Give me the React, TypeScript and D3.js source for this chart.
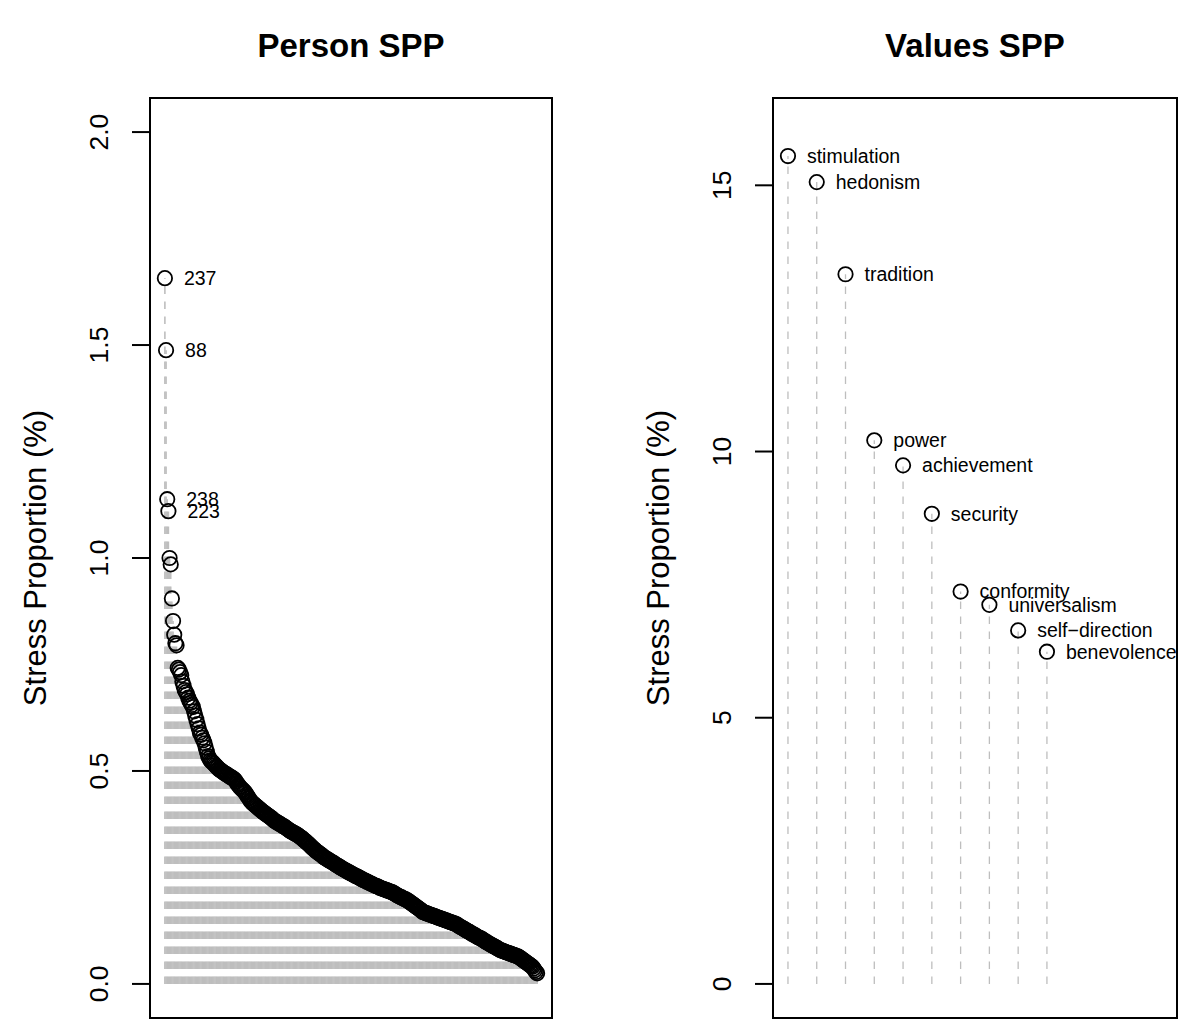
import React from "react";
import * as d3 from "d3";

// ---- Data ----
const personIds: string[] = ["237", "88", "238", "223"];
const personValues: number[] = [
  1.657, 1.488, 1.138, 1.110, 1.000, 0.985, 0.905, 0.852, 0.820, 0.800,
  0.795, 0.742, 0.738, 0.732, 0.725, 0.710, 0.700, 0.690, 0.685, 0.680,
  0.672, 0.665, 0.660, 0.655, 0.650, 0.640, 0.630, 0.620, 0.610, 0.600,
  0.590, 0.585, 0.578, 0.572, 0.565, 0.555, 0.545, 0.535, 0.530, 0.525,
  0.522, 0.520, 0.517, 0.514, 0.511, 0.508, 0.505, 0.503, 0.501, 0.499,
  0.497, 0.495, 0.493, 0.492, 0.490, 0.488, 0.486, 0.485, 0.483, 0.481,
  0.479, 0.475, 0.470, 0.467, 0.463, 0.460, 0.457, 0.455, 0.452, 0.449,
  0.444, 0.440, 0.436, 0.431, 0.428, 0.425, 0.423, 0.420, 0.418, 0.416,
  0.413, 0.411, 0.409, 0.406, 0.404, 0.402, 0.400, 0.398, 0.396, 0.394,
  0.392, 0.390, 0.388, 0.385, 0.383, 0.381, 0.380, 0.378, 0.376, 0.375,
  0.373, 0.371, 0.370, 0.368, 0.366, 0.364, 0.362, 0.360, 0.358, 0.357,
  0.355, 0.354, 0.352, 0.351, 0.349, 0.347, 0.345, 0.343, 0.341, 0.338,
  0.336, 0.334, 0.331, 0.329, 0.326, 0.323, 0.321, 0.318, 0.316, 0.313,
  0.311, 0.309, 0.307, 0.305, 0.303, 0.301, 0.298, 0.296, 0.295, 0.293,
  0.291, 0.290, 0.288, 0.286, 0.285, 0.283, 0.281, 0.279, 0.278, 0.276,
  0.274, 0.273, 0.271, 0.269, 0.268, 0.266, 0.265, 0.263, 0.262, 0.260,
  0.259, 0.257, 0.256, 0.254, 0.253, 0.252, 0.250, 0.249, 0.247, 0.246,
  0.244, 0.243, 0.242, 0.240, 0.239, 0.238, 0.236, 0.235, 0.234, 0.232,
  0.231, 0.230, 0.229, 0.228, 0.226, 0.225, 0.224, 0.223, 0.222, 0.221,
  0.220, 0.219, 0.218, 0.217, 0.216, 0.215, 0.213, 0.212, 0.210, 0.208,
  0.207, 0.205, 0.204, 0.203, 0.201, 0.200, 0.199, 0.197, 0.196, 0.194,
  0.192, 0.190, 0.188, 0.186, 0.184, 0.182, 0.180, 0.178, 0.176, 0.174,
  0.172, 0.169, 0.168, 0.167, 0.166, 0.165, 0.164, 0.163, 0.162, 0.161,
  0.160, 0.159, 0.158, 0.157, 0.156, 0.155, 0.154, 0.153, 0.152, 0.151,
  0.150, 0.149, 0.148, 0.147, 0.146, 0.145, 0.144, 0.143, 0.142, 0.141,
  0.140, 0.138, 0.136, 0.134, 0.133, 0.131, 0.130, 0.128, 0.126, 0.125,
  0.123, 0.122, 0.120, 0.118, 0.117, 0.115, 0.114, 0.112, 0.110, 0.109,
  0.108, 0.106, 0.105, 0.103, 0.101, 0.099, 0.098, 0.096, 0.094, 0.093,
  0.091, 0.090, 0.088, 0.087, 0.085, 0.084, 0.082, 0.080, 0.079, 0.078,
  0.077, 0.076, 0.075, 0.074, 0.073, 0.072, 0.071, 0.070, 0.069, 0.068,
  0.067, 0.066, 0.065, 0.064, 0.062, 0.060, 0.058, 0.056, 0.054, 0.052,
  0.050, 0.048, 0.046, 0.044, 0.042, 0.040, 0.036, 0.032, 0.028, 0.025,
];
const personTicks: number[] = [0, 0.5, 1.0, 1.5, 2.0];
const personTickLabels: string[] = ["0.0", "0.5", "1.0", "1.5", "2.0"];

const valueCategories: string[] = [
  "stimulation", "hedonism", "tradition", "power", "achievement",
  "security", "conformity", "universalism", "self\u2212direction", "benevolence",
];
const valueValues: number[] = [15.55, 15.06, 13.33, 10.21, 9.74, 8.83, 7.37, 7.12, 6.64, 6.24];
const valueTicks: number[] = [0, 5, 10, 15];
const valueTickLabels: string[] = ["0", "5", "10", "15"];

const FONT = "'Liberation Sans', Arial, Helvetica, sans-serif";
const GRAY = "#BEBEBE";

function ext(a: number, b: number): [number, number] {
  const d = (b - a) * 0.04;
  return [a - d, b + d];
}

type PanelProps = {
  title: string;
  left: number;
  right: number;
  top: number;
  bottom: number;
  values: number[];
  labels: string[];
  xMax: number;
  yMax: number;
  ticks: number[];
  tickLabels: string[];
  lineWidth: number;
};

function Panel(p: PanelProps) {
  const x = d3.scaleLinear().domain(ext(1, p.xMax)).range([p.left, p.right]);
  const y = d3.scaleLinear().domain(ext(0, p.yMax)).range([p.bottom, p.top]);
  const cx = (p.left + p.right) / 2;
  const cy = (p.top + p.bottom) / 2;
  return (
    <g>
      <text x={cx} y={57} textAnchor="middle" fontFamily={FONT} fontWeight="bold" fontSize={33}>
        {p.title}
      </text>
      {p.values.map((v, i) => (
        <line
          key={"l" + i}
          x1={x(i + 1)}
          x2={x(i + 1)}
          y1={y(0)}
          y2={y(v)}
          stroke={GRAY}
          strokeWidth={p.lineWidth}
          strokeDasharray="7.5,7.5"
        />
      ))}
      {p.values.map((v, i) => (
        <circle key={"c" + i} cx={x(i + 1)} cy={y(v)} r={7.2} fill="none" stroke="#000" strokeWidth={1.8} />
      ))}
      {p.labels.map((lab, i) => (
        <text
          key={"t" + i}
          x={x(i + 1) + 19}
          y={y(p.values[i])}
          dy="0.35em"
          fontFamily={FONT}
          fontSize={19.5}
        >
          {lab}
        </text>
      ))}
      <rect x={p.left} y={p.top} width={p.right - p.left} height={p.bottom - p.top} fill="none" stroke="#000" strokeWidth={2} />
      {p.ticks.map((t, i) => (
        <g key={"k" + i}>
          <line x1={p.left - 18} x2={p.left} y1={y(t)} y2={y(t)} stroke="#000" strokeWidth={2} />
          <text
            transform={`translate(${p.left - 42},${y(t)}) rotate(-90)`}
            textAnchor="middle"
            fontFamily={FONT}
            fontSize={26.5}
          >
            {p.tickLabels[i]}
          </text>
        </g>
      ))}
      <text
        transform={`translate(${p.left - 104},${cy}) rotate(-90)`}
        textAnchor="middle"
        fontFamily={FONT}
        fontSize={31}
      >
        Stress Proportion (%)
      </text>
    </g>
  );
}

export default function App() {
  return (
    <svg
      width={1179}
      height={1020}
      style={{ position: "absolute", left: 0, top: 0, background: "#fff" }}
    >
      <rect x={0} y={0} width={1179} height={1020} fill="#fff" />
      <Panel
        title="Person SPP"
        left={150}
        right={552}
        top={98}
        bottom={1018}
        values={personValues}
        labels={personIds}
        xMax={personValues.length}
        yMax={2}
        ticks={personTicks}
        tickLabels={personTickLabels}
        lineWidth={1.6}
      />
      <Panel
        title="Values SPP"
        left={773}
        right={1177}
        top={98}
        bottom={1018}
        values={valueValues}
        labels={valueCategories}
        xMax={14}
        yMax={16}
        ticks={valueTicks}
        tickLabels={valueTickLabels}
        lineWidth={1.3}
      />
    </svg>
  );
}
